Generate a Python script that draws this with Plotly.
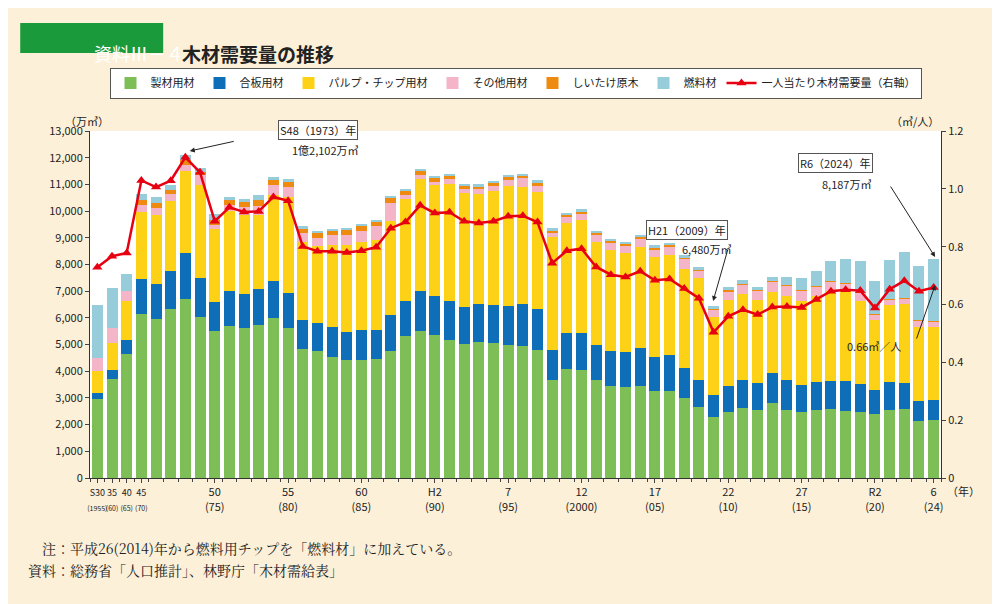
import plotly.graph_objects as go

years = [1955, 1960, 1965] + list(range(1970, 2025))
sawn = [2960,3722,4659,6157,5958,6332,6707,6032,5496,5695,5621,5720,5995,5621,4834,4746,4546,4409,4409,4459,4771,5333,5520,5371,5183,5033,5083,5058,4996,4946,4809,3672,4097,4059,3659,3447,3422,3460,3247,3272,2997,2660,2285,2473,2622,2548,2810,2548,2473,2548,2585,2498,2460,2398,2560,2585,2124,2173]
plywood = [225,325,524,1312,1323,1424,1724,1449,1111,1299,1273,1362,1399,1298,1099,1049,1099,1061,1124,1086,1349,1312,1474,1436,1437,1362,1449,1412,1436,1574,1511,1111,1348,1374,1312,1324,1299,1411,1274,1349,1124,1024,837,962,1038,1011,1112,1112,999,1036,1062,1124,1062,899,1037,962,749,761]
pulp = [837,1011,1437,2498,2586,2636,3060,3510,2735,2998,2973,2785,3197,3597,2910,2898,3073,3248,3297,3385,3497,3821,4222,4159,4408,4284,4109,4271,4521,4396,4396,4235,4110,4247,3884,3772,3710,3797,3760,3722,3722,3810,2911,3248,3234,3124,3047,3173,3173,3223,3371,3396,3123,2611,2873,2985,2773,2712]
other = [474,562,374,275,250,249,250,375,150,225,275,312,400,375,324,300,375,400,413,500,687,151,150,125,175,162,187,188,200,325,237,162,212,224,263,262,274,300,274,338,375,274,274,312,349,335,374,385,385,373,325,263,287,212,213,188,248,225]
shiitake = [0,0,0,162,174,163,162,100,188,212,200,225,188,200,175,187,175,187,199,162,188,162,150,150,138,112,101,124,113,100,100,88,75,75,62,63,63,50,63,37,40,30,30,60,40,40,30,30,30,20,30,30,30,20,20,20,20,20]
fuel = [1974,1499,662,237,238,187,187,150,212,87,112,187,87,100,88,63,75,63,75,75,37,50,62,62,50,75,74,75,75,62,100,100,87,113,75,87,87,87,100,87,110,108,120,90,124,110,146,295,422,568,770,894,1181,1254,1454,1728,2041,2296]
per_capita = [0.729,0.767,0.778,1.029,1.006,1.028,1.109,1.057,0.888,0.936,0.920,0.922,0.972,0.959,0.801,0.784,0.784,0.780,0.786,0.798,0.864,0.885,0.943,0.916,0.919,0.888,0.882,0.888,0.905,0.907,0.885,0.743,0.786,0.793,0.730,0.703,0.695,0.715,0.684,0.688,0.655,0.622,0.504,0.559,0.582,0.565,0.591,0.593,0.590,0.617,0.646,0.651,0.648,0.588,0.653,0.682,0.646,0.659]

tick_idx = [0,1,2,3,8,13,18,23,28,33,38,43,48,53,57]
sm = "<span style='font-size:7px'>"
tick_text = ["<span style='font-size:9px'>S30</span><br>"+sm+"(1955)</span>",
             "<span style='font-size:9px'>35</span><br>"+sm+"(60)</span>",
             "<span style='font-size:9px'>40</span><br>"+sm+"(65)</span>",
             "<span style='font-size:9px'>45</span><br>"+sm+"(70)</span>",
             "50<br>(75)","55<br>(80)","60<br>(85)","H2<br>(90)","7<br>(95)","12<br>(2000)",
             "17<br>(05)","22<br>(10)","27<br>(15)","R2<br>(20)","6<br>(24)"]

x = list(range(len(years)))
series = [("製材用材", sawn, "#7dbf56"), ("合板用材", plywood, "#0f6eb8"),
          ("パルプ・チップ用材", pulp, "#fdd116"), ("その他用材", other, "#f5b5c8"),
          ("しいたけ原木", shiitake, "#ef8a10"), ("燃料材", fuel, "#97cddb")]
fig = go.Figure()
for name, vals, col in series:
    fig.add_trace(go.Bar(x=x, y=vals, name=name, marker_color=col, width=0.75,
                         marker_line_width=0))
fig.add_trace(go.Scatter(x=x, y=per_capita, name="一人当たり木材需要量（右軸）", yaxis="y2",
                         mode="lines+markers", line=dict(color="#e60012", width=2.5),
                         marker=dict(symbol="triangle-up", size=9, color="#e60012")))

font = "Noto Sans CJK JP"
fig.update_layout(
    width=1000, height=604, barmode="stack", bargap=0.25,
    paper_bgcolor="#fdf0d8", plot_bgcolor="white",
    margin=dict(l=82, r=67, t=123, b=134),
    font=dict(family=font, size=11, color="#222"),
    legend=dict(orientation="h", x=0.5, xanchor="center", y=1.138, yanchor="middle",
                bgcolor="white", bordercolor="#555", borderwidth=1, font=dict(size=11),
                traceorder="normal"),
    xaxis=dict(tickmode="array", tickvals=tick_idx, ticktext=tick_text, range=[-0.5, 57.5],
               showline=True, linecolor="#333", ticks="outside", ticklen=4, tickangle=0,
               tickfont=dict(size=11), showgrid=False, automargin=False,
               minor=dict(tickmode="linear", tick0=-0.5, dtick=1, ticks="outside", ticklen=3)),
    yaxis=dict(range=[0, 13000], dtick=1000, tickformat=",", showline=True, linecolor="#333",
               ticks="outside", ticklen=4, showgrid=False, zeroline=False, automargin=False),
    yaxis2=dict(range=[0, 1.2], overlaying="y", side="right",
                showline=True, linecolor="#333", ticks="outside", ticklen=4, showgrid=False,
                automargin=False, zeroline=False,
                tickvals=[0,0.2,0.4,0.6,0.8,1.0,1.2], ticktext=["0","0.2","0.4","0.6","0.8","1.0","1.2"]),
)
# title
fig.add_shape(type="rect", xref="paper", yref="paper", x0=-0.082, x1=0.086, y0=1.225, y1=1.311,
              fillcolor="#1a9a3a", line_width=0)
fig.add_annotation(xref="paper", yref="paper", x=0.002, y=1.268, text="資料Ⅲ－４",
                   showarrow=False, font=dict(size=18, color="white"))
fig.add_annotation(xref="paper", yref="paper", x=0.106, y=1.268, xanchor="left", text="<b>木材需要量の推移</b>",
                   showarrow=False, font=dict(size=19, color="#222"))
fig.add_annotation(xref="paper", yref="paper", x=-0.032, y=1.058, text="（万㎥）", showarrow=False, font=dict(size=11))
fig.add_annotation(xref="paper", yref="paper", x=1.0, y=1.058, text="（㎥/人）", showarrow=False, font=dict(size=11))
fig.add_annotation(xref="paper", yref="paper", x=1.005, y=-0.01, xanchor="left", yanchor="top", text="（年）", showarrow=False, font=dict(size=11))
# callouts
arrow = dict(showarrow=True, arrowhead=2, arrowsize=1, arrowwidth=1, arrowcolor="#222", text="")
fig.add_annotation(x=6.3, y=12250, ax=9.4, ay=12624, axref="x", ayref="y", **arrow)
fig.add_annotation(xref="paper", yref="paper", x=0.221, y=1.032, text="S48（1973）年", showarrow=False,
                   bgcolor="white", bordercolor="#555", borderwidth=1, font=dict(size=11))
fig.add_annotation(xref="paper", yref="paper", x=0.235, y=0.974, text="1億2,102万㎥", showarrow=False, font=dict(size=11))
fig.add_annotation(x=41.97, y=6630, ax=43.0, ay=8616, axref="x", ayref="y", **arrow)
fig.add_annotation(xref="paper", yref="paper", x=0.75, y=0.744, text="H21（2009）年", showarrow=False,
                   bgcolor="white", bordercolor="#555", borderwidth=1, font=dict(size=11))
fig.add_annotation(xref="paper", yref="paper", x=0.755, y=0.69, text="6,480万㎥", showarrow=False, font=dict(size=11))
fig.add_annotation(x=57.1, y=8279, ax=54.0, ay=10976, axref="x", ayref="y", **arrow)
fig.add_annotation(xref="paper", yref="paper", x=0.92, y=0.937, text="R6（2024）年", showarrow=False,
                   bgcolor="white", bordercolor="#555", borderwidth=1, font=dict(size=11))
fig.add_annotation(xref="paper", yref="paper", x=0.92, y=0.877, text="8,187万㎥", showarrow=False, font=dict(size=11))
fig.add_annotation(x=57.1, y=0.667, yref="y2", ax=55.8, ay=0.477, axref="x", ayref="y2", **arrow)
fig.add_annotation(xref="paper", yref="paper", x=0.955, y=0.38, text="0.66㎥／人", showarrow=False, font=dict(size=11))
# footnotes
serif = "Noto Serif CJK JP, Noto Sans CJK JP"
fig.add_annotation(xref="paper", yref="paper", x=-0.075, y=-0.235, xanchor="left", text="　注：平成26(2014)年から燃料用チップを「燃料材」に加えている。",
                   showarrow=False, font=dict(size=14, family=serif))
fig.add_annotation(xref="paper", yref="paper", x=-0.075, y=-0.3, xanchor="left", text="資料：総務省「人口推計」、林野庁「木材需給表」",
                   showarrow=False, font=dict(size=14, family=serif))
fig.write_html("out.html")
